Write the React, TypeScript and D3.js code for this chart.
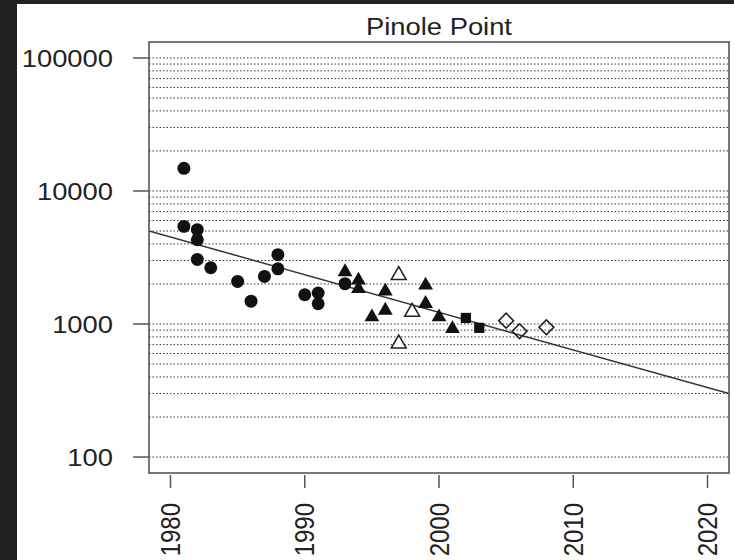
import React from "react";
import * as d3 from "d3";

const title = "Pinole Point";

const circleYears = [1981, 1981, 1982, 1982, 1982, 1983, 1985, 1986, 1987, 1988, 1988, 1990, 1991, 1991, 1993];
const circleValues = [14800, 5420, 5120, 4300, 3060, 2650, 2090, 1485, 2280, 3320, 2600, 1660, 1710, 1420, 2010];

const filledTriYears = [1993, 1994, 1994, 1995, 1996, 1996, 1999, 1999, 2000, 2001];
const filledTriValues = [2530, 2190, 1890, 1160, 1810, 1300, 2010, 1460, 1160, 946];

const openTriYears = [1997, 1997, 1998];
const openTriValues = [2390, 730, 1265];

const squareYears = [2002, 2003];
const squareValues = [1110, 936];

const diamondYears = [2005, 2006, 2008];
const diamondValues = [1060, 883, 946];

// log10(value) = trendIntercept + trendSlope * (year - 2000)
const trendIntercept = 3.088;
const trendSlope = -0.0283;

const xTicks = [1980, 1990, 2000, 2010, 2020];
const yTicks = [100, 1000, 10000, 100000];
const yTickLabels = ["100", "1000", "10000", "100000"];

const W = 734;
const H = 560;
const plot = { left: 149, right: 729, top: 42, bottom: 473 };
const SX = 1.14;

export default function App() {
  const x = d3.scaleLinear().domain([1978.4, 2021.6]).range([plot.left, plot.right]);
  const y = d3.scaleLog().domain([Math.pow(10, 1.88), Math.pow(10, 5.12)]).range([plot.bottom, plot.top]);

  const grid: number[] = [];
  for (let k = 2; k <= 4; k++) for (let m = 1; m <= 9; m++) grid.push(m * Math.pow(10, k));
  grid.push(100000);

  const xd = x.domain();
  const trendPts: [number, number][] = xd.map((yr) => [yr, Math.pow(10, trendIntercept + trendSlope * (yr - 2000))]);
  const trendLine = d3.line<[number, number]>().x((d) => x(d[0])).y((d) => y(d[1]))(trendPts) || "";

  const circle = d3.symbol().type(d3.symbolCircle).size(132)() || "";
  const tri = d3.symbol().type(d3.symbolTriangle).size(95)() || "";
  const openTri = d3.symbol().type(d3.symbolTriangle).size(95)() || "";
  const square = d3.symbol().type(d3.symbolSquare).size(105)() || "";
  const diamond = d3.symbol().type(d3.symbolSquare).size(110)() || "";

  const font = "'Liberation Sans', Arial, sans-serif";

  return (
    <svg width={W} height={H} style={{ position: "absolute", left: 0, top: 0, display: "block" }}>
      <rect x={0} y={0} width={W} height={H} fill="#222222" />
      <rect x={17} y={4} width={W - 17} height={H - 4} fill="#ffffff" />

      {/* gridlines */}
      {grid.map((g, i) => (
        <line key={"g" + i} x1={plot.left} x2={plot.right} y1={y(g)} y2={y(g)}
          stroke="#333" strokeWidth={1} strokeDasharray="1.5,2" />
      ))}

      {/* trend line */}
      <clipPath id="clip">
        <rect x={plot.left} y={plot.top} width={plot.right - plot.left} height={plot.bottom - plot.top} />
      </clipPath>
      <path d={trendLine} stroke="#333" strokeWidth={1.5} fill="none" clipPath="url(#clip)" />

      {/* points */}
      {circleYears.map((yr, i) => (
        <path key={"c" + i} d={circle} transform={`translate(${x(yr)},${y(circleValues[i])})`} fill="#111" />
      ))}
      {filledTriYears.map((yr, i) => (
        <path key={"t" + i} d={tri} transform={`translate(${x(yr)},${y(filledTriValues[i]) + 1.5})`} fill="#111" />
      ))}
      {openTriYears.map((yr, i) => (
        <path key={"o" + i} d={openTri} transform={`translate(${x(yr)},${y(openTriValues[i]) + 1.5})`}
          fill="#fff" stroke="#222" strokeWidth={1.6} />
      ))}
      {squareYears.map((yr, i) => (
        <path key={"s" + i} d={square} transform={`translate(${x(yr)},${y(squareValues[i])})`} fill="#111" />
      ))}
      {diamondYears.map((yr, i) => (
        <path key={"d" + i} d={diamond} transform={`translate(${x(yr)},${y(diamondValues[i])}) rotate(45)`}
          fill="none" stroke="#222" strokeWidth={1.6} />
      ))}

      {/* box */}
      <rect x={plot.left} y={plot.top} width={plot.right - plot.left} height={plot.bottom - plot.top}
        fill="none" stroke="#555" strokeWidth={1.6} />

      {/* y axis */}
      {yTicks.map((t, i) => (
        <g key={"yt" + i}>
          <line x1={plot.left - 16} x2={plot.left} y1={y(t)} y2={y(t)} stroke="#555" strokeWidth={1.5} />
          <text transform={`translate(${plot.left - 36},${y(t)}) scale(${SX},1)`} textAnchor="end"
            dy="0.36em" fontFamily={font} fontSize={24} fill="#222">{yTickLabels[i]}</text>
        </g>
      ))}

      {/* x axis */}
      {xTicks.map((t, i) => (
        <g key={"xt" + i}>
          <line x1={x(t)} x2={x(t)} y1={plot.bottom + 2} y2={plot.bottom + 15} stroke="#555" strokeWidth={1.5} />
          <text transform={`translate(${x(t) + 9.5},${plot.bottom + 30}) scale(${SX},1) rotate(-90)`}
            textAnchor="end" fontFamily={font} fontSize={24} fill="#222">{String(t)}</text>
        </g>
      ))}

      {/* title */}
      <text transform={`translate(${(plot.left + plot.right) / 2},35) scale(${SX},1)`} textAnchor="middle"
        fontFamily={font} fontSize={24} fill="#222">{title}</text>
    </svg>
  );
}
